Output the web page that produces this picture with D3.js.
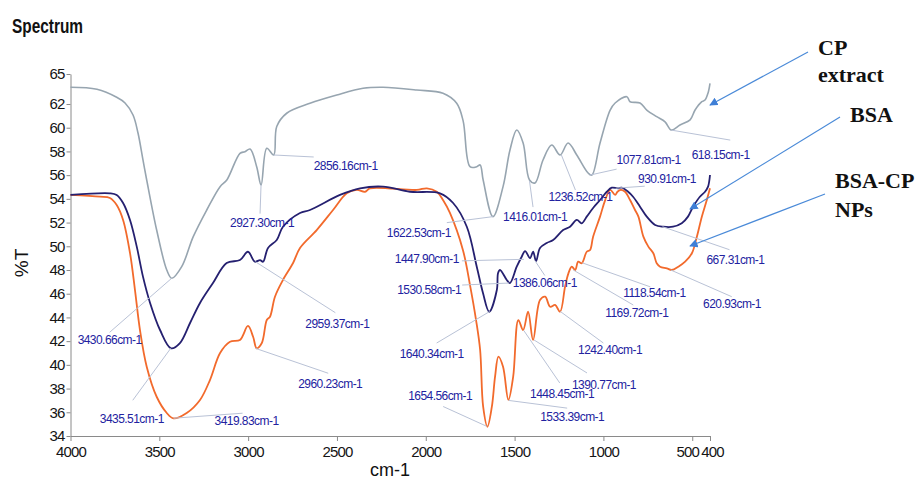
<!DOCTYPE html>
<html lang="en">
<head>
<meta charset="UTF-8">
<title>FTIR Spectrum</title>
<script src="https://d3js.org/d3.v7.min.js"></script>
<style>
  body { margin: 0; background: #fff; }
  svg { display: block; font-family: "Liberation Sans", Arial, sans-serif; }
  .axis path, .axis line { stroke: #8a8a8a; }
  .axis text { font-size: 15px; fill: #151515; letter-spacing: -0.8px; }
  .peak { font-size: 12px; fill: #2222a0; letter-spacing: -0.55px; }
  .leader { stroke: #b9c2d6; stroke-width: 1; fill: none; }
  .tag { font-family: "Liberation Serif", "Times New Roman", serif; font-weight: bold; font-size: 22px; fill: #111; }
</style>
</head>
<body>
<svg id="chart" width="918" height="479"></svg>
<script>
// ---- data ----
const xTicks = [4000, 3500, 3000, 2500, 2000, 1500, 1000, 500, 400];
const yTicks = [34, 36, 38, 40, 42, 44, 46, 48, 50, 52, 54, 56, 58, 60, 62, 65];

// CP extract (grey)
const cpWave = [4000,3851,3740,3693,3648,3620,3592,3571,3515,3458,3430,3374,3309,3233,3158,3120,3046,3018,2989,2952,
  2927,2895,2856,2839,2783,2652,2501,2353,2241,2051,1903,1826,1790,1751,1713,1694,1677,1622,1565,1526,
  1488,1452,1416,1385,1340,1291,1244,1199,1150,1086,1065,1019,962,934,868,850,794,756,700,653,
  618,569,512,484,446,428,411,400];
const cpT = [63.67,63.47,62.67,62.1,61.07,59.55,57.28,55.59,51.37,48.0,47.3,48.28,50.81,53.06,55.03,55.59,57.84,57.98,58.2,56.71,
  55.17,58.26,57.7,60.1,61.22,62.07,62.9,63.57,63.67,63.4,63.07,62.07,60.6,56.71,56.71,56.86,55.59,52.5,55.03,58.12,
  59.81,58.71,55.59,55.34,57.28,58.54,57.7,58.71,57.7,56.18,56.01,58.71,61.49,62.1,62.73,62.23,62.1,61.49,60.93,60.5,
  59.81,60.23,60.66,61.49,62.23,62.4,63.1,64.07];

// BSA (navy)
const bsaWave = [4000,3778,3740,3704,3665,3627,3592,3552,3496,3434,3384,3327,3271,3198,3121,3046,3001,2962,2933,2916,
  2888,2839,2804,2708,2652,2483,2370,2241,2089,1920,1846,1769,1713,1678,1643,1600,1593,1582,1544,1526,
  1488,1460,1441,1413,1396,1379,1357,1319,1283,1227,1188,1150,1122,1094,1058,1019,981,953,917,897,
  861,833,794,756,709,664,608,559,524,495,457,428,411,400];
const bsaT = [54.33,54.47,54.33,53.65,52.22,49.97,47.44,45.22,42.94,41.4,41.84,43.53,45.22,46.9,48.59,48.84,49.54,48.7,48.84,48.7,
  49.86,50.53,51.65,52.81,53.06,54.33,54.89,55.03,54.6,54.47,53.65,51.65,48.28,46.06,44.48,46.31,47.75,48.0,47.16,46.9,
  48.28,49.12,49.6,49.0,49.54,48.76,49.86,50.28,50.53,51.37,51.65,52.22,51.94,52.5,53.23,53.9,54.6,54.94,54.89,54.94,
  54.6,54.18,53.34,52.5,51.8,51.65,51.65,51.94,52.5,53.34,54.18,54.6,55.03,56.01];

// BSA-CP NPs (orange)
const npWave = [4000,3834,3778,3740,3704,3665,3637,3609,3571,3515,3458,3420,3346,3271,3215,3158,3102,3046,3001,2972,
  2952,2923,2895,2877,2849,2804,2747,2708,2614,2522,2445,2389,2342,2314,2051,1994,1938,1903,1864,1791,
  1751,1717,1694,1677,1653,1628,1610,1591,1565,1535,1508,1479,1452,1424,1396,1357,1328,1300,1272,1244,
  1216,1197,1178,1159,1142,1122,1094,1075,1058,1019,990,962,934,921,902,878,850,822,803,775,
  747,719,700,681,643,615,578,540,502,474,446,418,400];
const npT = [54.33,54.18,54.07,53.48,52.22,49.43,46.31,42.94,39.84,37.31,35.94,35.49,35.94,37.04,38.72,41.0,41.95,42.1,43.28,42.37,
  41.4,41.84,43.78,44.06,45.75,47.16,48.59,49.86,51.37,53.06,54.47,54.75,54.6,54.89,54.75,54.89,54.6,53.9,52.81,49.69,
  46.73,43.78,41.25,36.47,34.78,36.47,39.0,40.69,39.84,37.04,39.0,43.78,42.94,44.48,42.1,45.47,45.75,44.9,45.05,44.48,
  46.59,47.72,48.28,48.0,48.7,48.57,49.54,49.69,50.81,52.5,53.9,54.75,54.33,54.6,54.75,54.6,53.9,53.06,52.5,50.81,
  49.97,49.41,48.57,48.28,48.14,48.0,48.28,48.7,49.41,50.81,52.5,53.9,54.89];

// peak labels
const peakText = ["2927.30cm-1","2856.16cm-1","3430.66cm-1","3435.51cm-1","3419.83cm-1","2959.37cm-1","2960.23cm-1",
  "1622.53cm-1","1416.01cm-1","1447.90cm-1","1530.58cm-1","1386.06cm-1","1640.34cm-1","1654.56cm-1","1533.39cm-1",
  "1448.45cm-1","1390.77cm-1","1242.40cm-1","1169.72cm-1","1118.54cm-1","1236.52cm-1","1077.81cm-1","930.91cm-1",
  "618.15cm-1","667.31cm-1","620.93cm-1"];
const peakWave = [2927.30,2856.16,3430.66,3435.51,3419.83,2959.37,2960.23,1622.53,1416.01,1447.90,1530.58,1386.06,1640.34,
  1654.56,1533.39,1448.45,1390.77,1242.40,1169.72,1118.54,1236.52,1077.81,930.91,618.15,667.31,620.93];
const peakT = [55.2,57.7,47.3,41.4,35.5,48.7,41.4,52.5,55.5,48.9,46.9,48.8,44.5,34.8,37.0,42.9,42.1,44.5,48.0,48.6,
  57.7,56.0,54.9,59.8,51.65,48.0];

const tagLines = [["CP", "extract"], ["BSA"], ["BSA-CP", "NPs"]];

// ---- layout ----
// leader end [dx,dy] and text left/middle [tx,ty] relative to the peak point
const peakLayout = [
  [-1,29,-31,38],[40,2,40,11],[-62,54,-94,61],[-38,52,-71,70],[69,-5,41,2.5],[80,51,50,62],[73,25,43,35],
  [-46,6,-106,16.5],[3.5,26,-26.5,35.7],[-62,1.5,-129,-1],[-47,2,-112,7],[10,15,-22,22.5],[-53,31.5,-90,42],
  [-44,-20,-79,-30.4],[58.5,7.7,31.5,16.4],[36,52.5,6.3,62.8],[53,33,38,45],[43,31.5,17.7,37.8],[60,35,32,42.7],
  [68,24,41,30],[14,35,-13,41.7],[27,-6,27,-15.7],[29,-2,22.4,-9.7],[59,10,20.5,24.5],[67,23,44,32.6],[61,26.7,32.3,34]
];
const tagLayout = [
  { x: 818, y: [55, 82], from: [808, 52], to: [710, 105] },
  { x: 850, y: [122], from: [840, 117], to: [690, 209] },
  { x: 835, y: [188, 217], from: [825, 194], to: [690, 246] }
];

const svg = d3.select('#chart');
const x = d3.scaleLinear().domain([4000, 400]).range([70.5, 710]);
const y = d3.scaleLinear().domain([34, 62, 65]).range([436, 104, 74]);

// axes
const gx = svg.append('g').attr('class', 'axis')
  .attr('transform', 'translate(0,436)')
  .call(d3.axisBottom(x).tickValues(xTicks).tickSize(5).tickSizeOuter(0).tickPadding(5).tickFormat(d3.format('d')));
gx.selectAll('.tick text').filter(d => d === 500).attr('dx', '-5');
gx.selectAll('.tick text').filter(d => d === 400).attr('dx', '2');

svg.append('g').attr('class', 'axis')
  .attr('transform', 'translate(70.5,0)')
  .call(d3.axisLeft(y).tickValues(yTicks).tickSize(4).tickSizeOuter(0).tickPadding(2).tickFormat(d3.format('d')));

// curves
const line = d3.line().x(d => x(d[0])).y(d => y(d[1])).curve(d3.curveCatmullRom.alpha(0.5));
const series = [
  { w: cpWave, t: cpT, color: '#97a5b0', width: 1.6 },
  { w: npWave, t: npT, color: '#f26a2c', width: 1.8 },
  { w: bsaWave, t: bsaT, color: '#252070', width: 1.8 }
];
series.forEach(s => {
  svg.append('path')
    .datum(d3.zip(s.w, s.t))
    .attr('d', line)
    .attr('fill', 'none')
    .attr('stroke', s.color)
    .attr('stroke-width', s.width)
    .attr('stroke-linejoin', 'round');
});

// peak leaders and labels
const peaks = peakText.map((t, i) => ({ text: t, w: peakWave[i], v: peakT[i], l: peakLayout[i] }));
svg.append('g').selectAll('line').data(peaks).join('line')
  .attr('class', 'leader')
  .attr('x1', d => x(d.w)).attr('y1', d => y(d.v))
  .attr('x2', d => x(d.w) + d.l[0]).attr('y2', d => y(d.v) + d.l[1]);
svg.append('g').selectAll('text').data(peaks).join('text')
  .attr('class', 'peak')
  .attr('x', d => x(d.w) + d.l[2])
  .attr('y', d => y(d.v) + d.l[3])
  .attr('dy', '0.36em')
  .text(d => d.text);

// titles
svg.append('text').attr('x', 12).attr('y', 33)
  .attr('font-weight', 'bold').attr('font-size', 20).attr('fill', '#111')
  .attr('textLength', 71).attr('lengthAdjust', 'spacingAndGlyphs')
  .text('Spectrum');
svg.append('text').attr('transform', 'translate(28,263) rotate(-90)')
  .attr('text-anchor', 'middle').attr('font-size', 19).attr('fill', '#111')
  .text('%T');
svg.append('text').attr('x', 390).attr('y', 476)
  .attr('text-anchor', 'middle').attr('font-size', 18).attr('fill', '#111')
  .text('cm-1');

// series tags with arrows
svg.append('defs').append('marker')
  .attr('id', 'arrow').attr('viewBox', '0 0 10 10').attr('refX', 9).attr('refY', 5)
  .attr('markerWidth', 7).attr('markerHeight', 7).attr('orient', 'auto')
  .append('path').attr('d', 'M0,0L10,5L0,10z').attr('fill', '#3f7fd6');

tagLayout.forEach((p, i) => {
  svg.append('line')
    .attr('x1', p.from[0]).attr('y1', p.from[1]).attr('x2', p.to[0]).attr('y2', p.to[1])
    .attr('stroke', '#4a8ad8').attr('stroke-width', 1.2).attr('marker-end', 'url(#arrow)');
  tagLines[i].forEach((s, j) => {
    svg.append('text').attr('class', 'tag').attr('x', p.x).attr('y', p.y[j]).text(s);
  });
});
</script>
</body>
</html>
